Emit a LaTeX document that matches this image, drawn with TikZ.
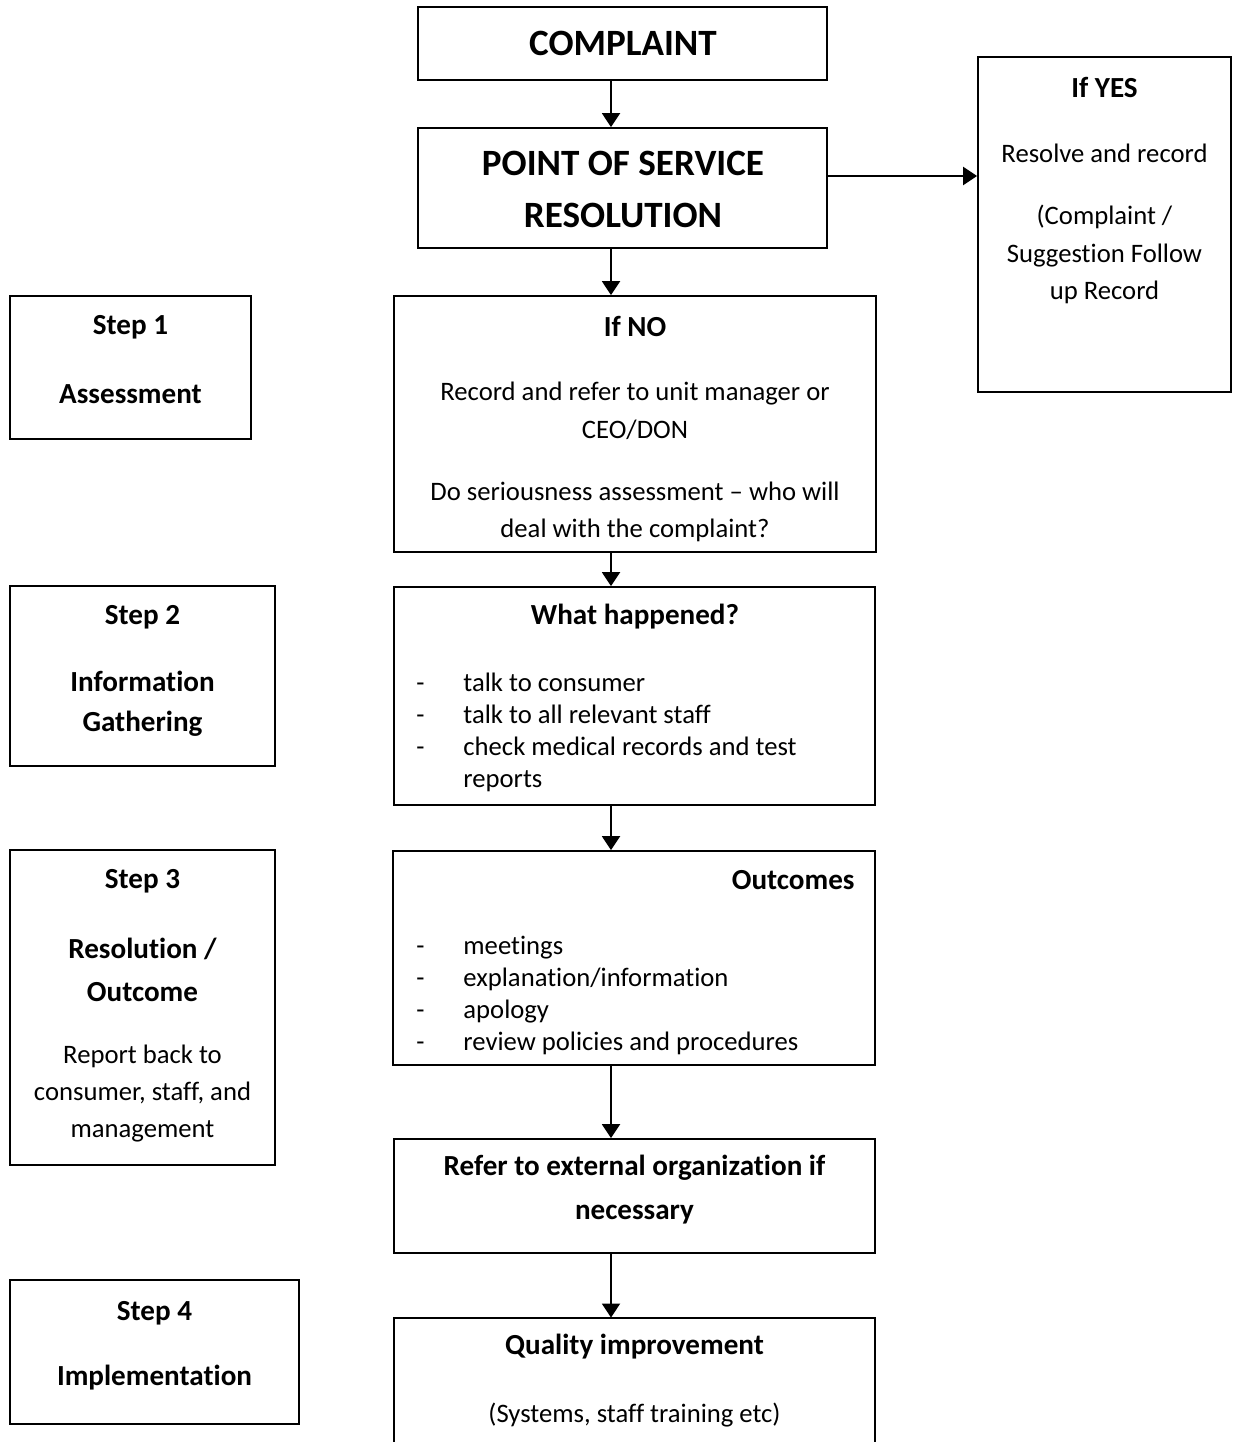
\documentclass[tikz,border=0pt]{standalone}
\usepackage{fontspec}
\setmainfont{Carlito}[Ligatures={NoCommon,NoRare,NoContextual}]
\usetikzlibrary{arrows.meta,fit}
\newcommand\dsh{\makebox[21.15pt][l]{-}}
\newcommand\tiX{t\kern0pt i}
\begin{document}
\begin{tikzpicture}[x=0.45pt,y=-0.45pt,
  box/.style={draw,line width=0.8pt,inner sep=0pt},
  ghost/.style={inner sep=0pt},
  arr/.style={line width=0.9pt,-{Triangle[width=8.1pt,length=6.3pt]}},
  txt/.style={inner sep=0pt,align=center},
  reg/.style={font=\fontsize{12}{#1}\selectfont},
  bld/.style={font=\fontsize{13.1}{#1}\selectfont\bfseries},
  hdg/.style={font=\fontsize{16.7}{#1}\selectfont\bfseries}]
\useasboundingbox (0,0) rectangle (1235,1442);
% boxes
\node[box,fit={(418,7)(827,80)}] (cmp) {};
\node[box,fit={(418,128)(827,248)}] (pos) {};
\node[box,fit={(978,57)(1231,392)}] (yes) {};
\node[box,fit={(394,296)(876,552)}] (no) {};
\node[box,fit={(394,587)(875,805)}] (what) {};
\node[box,fit={(393,851)(875,1065)}] (out) {};
\node[box,fit={(394,1139)(875,1253)}] (ref) {};
\node[ghost,fit={(394,1318)(875,1446)}] (qi) {};
\draw[line width=0.9pt] (qi.south west) |- (qi.north east) -- (qi.south east);
\node[box,fit={(10,296)(251,439)}] (s1) {};
\node[box,fit={(10,586)(275,766)}] (s2) {};
\node[box,fit={(10,850)(275,1165)}] (s3) {};
\node[box,fit={(10,1280)(299,1424)}] (s4) {};
% texts
\node[txt,hdg=20] (cmpT) at (623,43) {COMPLAINT};
\node[txt,hdg=23.4] (posT) at (623,189) {POINT OF SERVICE\\RESOLUTION};
\node[txt,bld=16] (yesT) at (1104.5,87) {If YES};
\node[txt,reg=16.9] (yesA) at (1104.5,153) {Resolve and record};
\node[txt,reg=16.9] (yesB) at (1104.5,254.5) {(Complaint /\\Sugges\tiX on Follow\\up Record};
\node[txt,bld=16] (noT) at (635,326) {If NO};
\node[txt,reg=17.1] (noA) at (635,411) {Record and refer to unit manager or\\CEO/DON};
\node[txt,reg=16.7] (noB) at (635,511.5) {Do seriousness assessment -- who will\\deal with the complaint?};
\node[txt,bld=16] (whatT) at (635,617) {What happened?};
\node[txt,reg=14.4,align=left,anchor=west] (whatL) at (416,732)
  {\dsh talk to consumer\\\dsh talk to all relevant staff\\\dsh check medical records and test\\\hspace*{21.15pt}reports};
\node[txt,bld=16,anchor=east] (outT) at (855,880) {Outcomes};
\node[txt,reg=14.4,align=left,anchor=west] (outL) at (416,995)
  {\dsh mee\tiX ngs\\\dsh explana\tiX on/informa\tiX on\\\dsh apology\\\dsh review policies and procedures};
\node[txt,bld=19.8] (refT) at (634.5,1190) {Refer to external organiza\tiX on if\\necessary};
\node[txt,bld=16] (qiT) at (634.5,1347) {Quality improvement};
\node[txt,reg=16] (qiA) at (634.5,1415) {(Systems, staff training etc)};
\node[txt,bld=16] (s1T) at (130.5,327) {Step 1};
\node[txt,bld=16] (s1A) at (130.5,394) {Assessment};
\node[txt,bld=16] (s2T) at (142.5,617) {Step 2};
\node[txt,bld=18] (s2A) at (142.5,704) {Informa\tiX on\\Gathering};
\node[txt,bld=16] (s3T) at (142.5,881) {Step 3};
\node[txt,bld=19.35] (s3A) at (142.5,969.5) {Resolu\tiX on /\\Outcome};
\node[txt,reg=16.65] (s3B) at (142.5,1094) {Report back to\\consumer, staff, and\\management};
\node[txt,bld=16] (s4T) at (154.5,1313) {Step 4};
\node[txt,bld=16] (s4A) at (154.5,1378) {Implementa\tiX on};
% connectors
\coordinate (ax) at (611,0);
\coordinate (ay) at (0,176);
\draw[arr] (cmp.south -| ax) -- (pos.north -| ax);
\draw[arr] (pos.east |- ay) -- (yes.west |- ay);
\draw[arr] (pos.south -| ax) -- (no.north -| ax);
\draw[arr] (no.south -| ax) -- (what.north -| ax);
\draw[arr] (what.south -| ax) -- (out.north -| ax);
\draw[arr] (out.south -| ax) -- (ref.north -| ax);
\draw[arr] (ref.south -| ax) -- (qi.north -| ax);
\end{tikzpicture}
\end{document}
